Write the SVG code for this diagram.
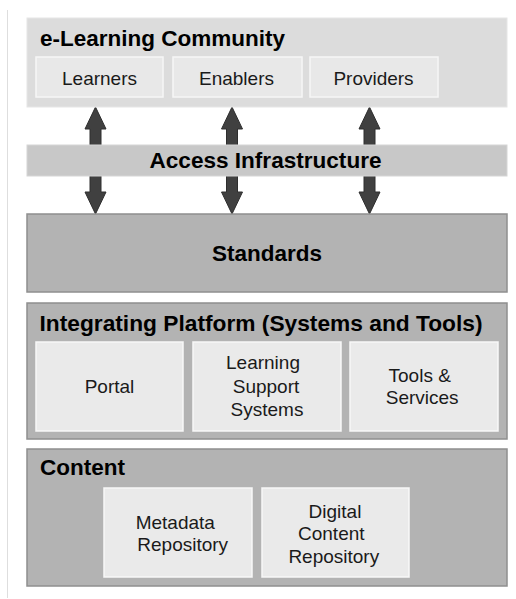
<svg xmlns="http://www.w3.org/2000/svg" width="516" height="599" viewBox="0 0 516 599">
  <style>
    .bold { font-family: "Liberation Sans", Arial, sans-serif; font-weight: bold; font-size: 22.5px; fill: #000; }
    .reg { font-family: "Liberation Sans", Arial, sans-serif; font-size: 19px; fill: #1a1a1a; text-anchor: middle; }
    .mid { text-anchor: middle; }
    .light { fill: #dcdcdc; stroke: #e6e6e6; stroke-width: 1; }
    .inner1 { fill: #e8e8e8; stroke: #f6f6f6; stroke-width: 1.5; }
    .bar { fill: #c8c8c8; stroke: #d6d6d6; stroke-width: 1; }
    .dark { fill: #b3b3b3; stroke: #8f8f8f; stroke-width: 1.5; }
    .inner2 { fill: #eaeaea; stroke: #f8f8f8; stroke-width: 1.5; }
    .arrow { fill: #404040; stroke: #2e2e2e; stroke-width: 1; }
  </style>
  <rect width="516" height="599" fill="#ffffff"/>
  <line x1="7.5" y1="10" x2="7.5" y2="598" stroke="#dedede" stroke-width="1"/>

  <g id="connectors">
    <polygon class="arrow" points="95.5,107 106,129 101,129 101,192 106,192 95.5,214 85,192 90,192 90,129 85,129"/>
    <polygon class="arrow" points="232,107 242.5,129 237.5,129 237.5,192 242.5,192 232,214 221.5,192 226.5,192 226.5,129 221.5,129"/>
    <polygon class="arrow" points="369.5,107 380,129 375,129 375,192 380,192 369.5,214 359,192 364,192 364,129 359,129"/>
  </g>

  <g id="elearning-community">
    <rect class="light" x="27" y="18" width="480" height="89"/>
    <text class="bold" x="40" y="46" textLength="245" lengthAdjust="spacingAndGlyphs">e-Learning Community</text>
    <g id="learners">
      <rect class="inner1" x="36" y="57" width="127" height="40"/>
      <text class="reg" x="99.5" y="84.5">Learners</text>
    </g>
    <g id="enablers">
      <rect class="inner1" x="173" y="57" width="129" height="40"/>
      <text class="reg" x="236.5" y="84.5">Enablers</text>
    </g>
    <g id="providers">
      <rect class="inner1" x="310" y="57" width="128" height="40"/>
      <text class="reg" x="373.5" y="84.5">Providers</text>
    </g>
  </g>

  <g id="access-infrastructure">
    <rect class="bar" x="27" y="145" width="480" height="31"/>
    <text class="bold mid" x="265.5" y="168" textLength="232" lengthAdjust="spacingAndGlyphs">Access Infrastructure</text>
  </g>

  <g id="standards">
    <rect class="dark" x="27" y="214" width="480" height="78"/>
    <text class="bold mid" x="267" y="260.5">Standards</text>
  </g>

  <g id="integrating-platform">
    <rect class="dark" x="27" y="303" width="480" height="136"/>
    <text class="bold" x="39.5" y="330.5" textLength="443" lengthAdjust="spacingAndGlyphs">Integrating Platform (Systems and Tools)</text>
    <g id="portal">
      <rect class="inner2" x="36" y="342" width="147" height="89"/>
      <text class="reg" x="109.5" y="393">Portal</text>
    </g>
    <g id="learning-support-systems">
      <rect class="inner2" x="193" y="342" width="148" height="89"/>
      <text class="reg" x="263" y="369">Learning</text>
      <text class="reg" x="266" y="392.5">Support</text>
      <text class="reg" x="267" y="415.5">Systems</text>
    </g>
    <g id="tools-services">
      <rect class="inner2" x="350" y="342" width="148" height="89"/>
      <text class="reg" x="419.7" y="381.7">Tools &amp;</text>
      <text class="reg" x="422.2" y="404.3">Services</text>
    </g>
  </g>

  <g id="content">
    <rect class="dark" x="27" y="449" width="480" height="137"/>
    <text class="bold" x="40" y="475">Content</text>
    <g id="metadata-repository">
      <rect class="inner2" x="104" y="488" width="148" height="89"/>
      <text class="reg" x="175.3" y="529">Metadata</text>
      <text class="reg" x="182.7" y="551">Repository</text>
    </g>
    <g id="digital-content-repository">
      <rect class="inner2" x="262" y="488" width="147" height="89"/>
      <text class="reg" x="335" y="517.5">Digital</text>
      <text class="reg" x="331.3" y="540">Content</text>
      <text class="reg" x="333.8" y="562.5">Repository</text>
    </g>
  </g>
</svg>
